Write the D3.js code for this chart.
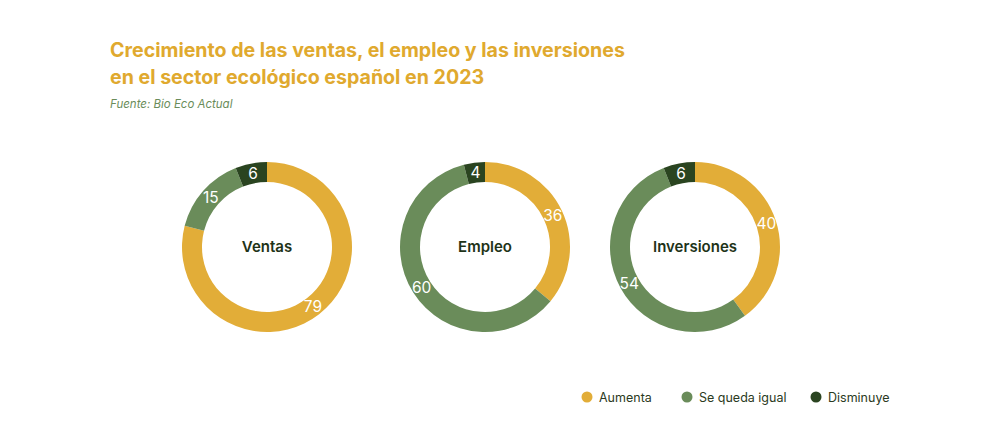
<!DOCTYPE html>
<html>
<head>
<meta charset="utf-8">
<script src="https://cdn.jsdelivr.net/npm/d3@7"></script>
<style>
  html, body { margin: 0; padding: 0; background: #fff; }
  svg { display: block; font-family: 'Inter', 'Noto Sans', sans-serif; }
</style>
</head>
<body>
<svg id="chart" width="1000" height="448"></svg>
<script>
// categories and values
const categories = ['Aumenta', 'Se queda igual', 'Disminuye']
const charts = ['Ventas', 'Empleo', 'Inversiones']
const ventas = [79, 15, 6]
const empleo = [36, 60, 4]
const inversiones = [40, 54, 6]
const series = [ventas, empleo, inversiones]

const colors = ['#E2AD38', '#6A8C5A', '#2A4420']

const svg = d3.select('#chart')

// title
const title = svg.append('text')
  .attr('x', 110)
  .attr('y', 57)
  .attr('fill', '#E0A92E')
  .attr('font-size', 19.6)
  .attr('font-weight', 700)
title.append('tspan').attr('x', 110).text('Crecimiento de las ventas, el empleo y las inversiones')
title.append('tspan').attr('x', 110).attr('dy', 26.5).text('en el sector ecológico español en 2023')

svg.append('text')
  .attr('x', 110)
  .attr('y', 108)
  .attr('fill', '#6A8C5A')
  .attr('font-size', 11.5)
  .attr('font-style', 'italic')
  .text('Fuente: Bio Eco Actual')

// donut layout
const x = d3.scaleOrdinal().domain(charts).range([267, 485, 695])
const cy = 247
const outerR = 85
const innerR = 65

const pie = d3.pie().sort(null).value(d => d)
const arc = d3.arc().innerRadius(innerR).outerRadius(outerR)

charts.forEach((name, i) => {
  const g = svg.append('g')
    .attr('transform', `translate(${x(name)},${cy})`)

  const arcs = pie(series[i])

  g.selectAll('path')
    .data(arcs)
    .enter()
    .append('path')
    .attr('d', arc)
    .attr('fill', (d, j) => colors[j])

  g.selectAll('text.val')
    .data(arcs)
    .enter()
    .append('text')
    .attr('class', 'val')
    .attr('transform', d => `translate(${arc.centroid(d)})`)
    .attr('text-anchor', 'middle')
    .attr('dy', '0.36em')
    .attr('fill', '#fff')
    .attr('font-size', 15.5)
    .text(d => d.data)

  g.append('text')
    .attr('text-anchor', 'middle')
    .attr('dy', '0.36em')
    .attr('fill', '#1E3318')
    .attr('font-size', 15)
    .attr('font-weight', 600)
    .text(name)
})

// legend
const legendX = [587, 687, 816]
const legend = svg.selectAll('g.legend')
  .data(categories)
  .enter()
  .append('g')
  .attr('class', 'legend')
  .attr('transform', (d, i) => `translate(${legendX[i]},397)`)

legend.append('circle')
  .attr('r', 5.5)
  .attr('fill', (d, i) => colors[i])

legend.append('text')
  .attr('x', 12)
  .attr('dy', '0.36em')
  .attr('font-size', 12.5)
  .attr('fill', '#2B3A22')
  .text(d => d)
</script>
</body>
</html>
